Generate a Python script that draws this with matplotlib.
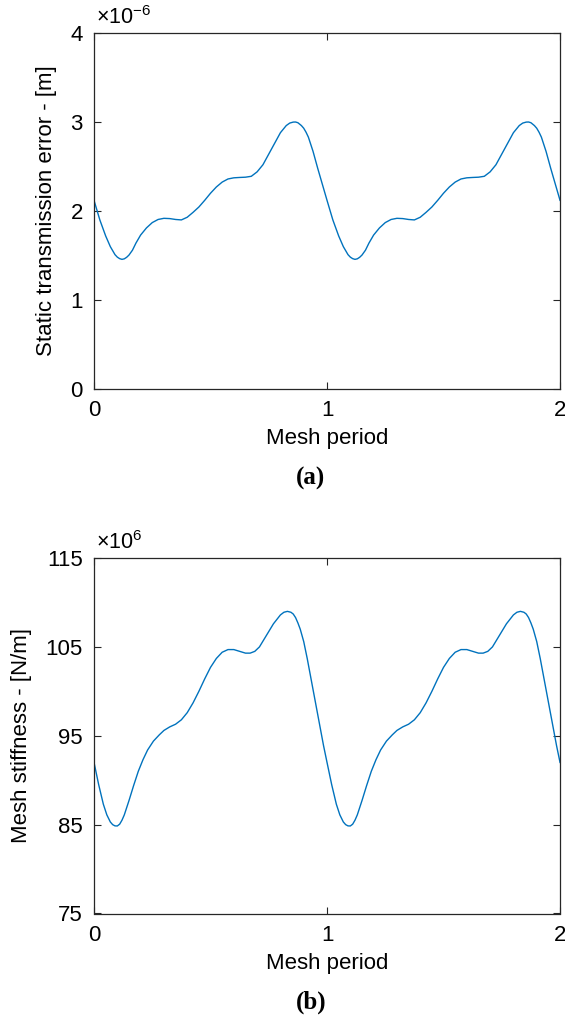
import numpy as np
import matplotlib
matplotlib.use('Agg')
import matplotlib.pyplot as plt

# one mesh period, repeated for the two periods shown
phase_ste = [0.000, 0.025, 0.050, 0.070, 0.090, 0.100, 0.110, 0.120, 0.130, 0.140,
             0.150, 0.165, 0.180, 0.200, 0.225, 0.250, 0.275, 0.300, 0.325, 0.350,
             0.375, 0.400, 0.425, 0.450, 0.475, 0.500, 0.525, 0.550, 0.575, 0.600,
             0.625, 0.650, 0.675, 0.700, 0.725, 0.750, 0.775, 0.800, 0.825, 0.840,
             0.855, 0.865, 0.875, 0.890, 0.900, 0.910, 0.920, 0.940, 0.960, 0.980]
ste_period = [2.12, 1.90, 1.72, 1.60, 1.51, 1.482, 1.465, 1.457, 1.463, 1.48,
              1.505, 1.56, 1.64, 1.73, 1.81, 1.87, 1.905, 1.918, 1.915, 1.905,
              1.900, 1.930, 1.985, 2.045, 2.12, 2.20, 2.27, 2.325, 2.36, 2.373,
              2.377, 2.38, 2.39, 2.44, 2.52, 2.64, 2.76, 2.88, 2.96, 2.988,
              2.999, 3.00, 2.992, 2.96, 2.93, 2.885, 2.83, 2.67, 2.48, 2.30]   # x1e-6 m

phase_k = [0.000, 0.020, 0.040, 0.055, 0.070, 0.080, 0.090, 0.100, 0.110, 0.120,
           0.130, 0.150, 0.170, 0.190, 0.210, 0.230, 0.255, 0.280, 0.300, 0.325,
           0.350, 0.375, 0.400, 0.425, 0.450, 0.475, 0.500, 0.525, 0.550, 0.575,
           0.600, 0.625, 0.650, 0.670, 0.690, 0.710, 0.740, 0.770, 0.800, 0.815,
           0.830, 0.845, 0.855, 0.865, 0.875, 0.885, 0.900, 0.915, 0.930, 0.945,
           0.960, 0.975, 0.985]
k_period = [92.0, 89.5, 87.3, 86.1, 85.3, 85.0, 84.86, 84.85, 85.05, 85.5,
            86.1, 87.7, 89.4, 91.0, 92.3, 93.4, 94.4, 95.1, 95.6, 96.0,
            96.3, 96.8, 97.6, 98.7, 100.0, 101.4, 102.7, 103.7, 104.4, 104.7,
            104.7, 104.5, 104.3, 104.3, 104.5, 105.0, 106.3, 107.6, 108.6, 108.9,
            109.0, 108.9, 108.7, 108.3, 107.7, 107.0, 105.6, 103.7, 101.6, 99.5,
            97.4, 95.3, 93.9]   # x1e6 N/m

x_ticks = [0, 1, 2]
ste_ticks = [0, 1, 2, 3, 4]
k_ticks = [75, 85, 95, 105, 115]

plt.rcParams['font.family'] = ['Liberation Sans', 'DejaVu Sans']
plt.rcParams['mathtext.default'] = 'regular'

line_color = '#0072BD'
axis_color = '#262626'


def two_periods(phase, vals):
    t = np.concatenate([phase, np.array(phase) + 1, [2.0]])
    y = np.concatenate([vals, vals, [vals[0]]])
    return t, y


def style_axes(ax, yticks, ylabel, exponent, tag):
    ax.set_xlim(0, 2)
    ax.set_ylim(yticks[0], yticks[-1])
    ax.set_xticks(x_ticks)
    ax.set_yticks(yticks)
    ax.tick_params(direction='in', length=5, width=0.8, colors=axis_color,
                   labelcolor='black', labelsize=16, top=True, right=True, pad=8)
    for s in ax.spines.values():
        s.set_color(axis_color)
        s.set_linewidth(0.9)
    ax.set_xlabel('Mesh period', fontsize=16, labelpad=5)
    ax.set_ylabel(ylabel, fontsize=16, labelpad=10)
    ax.text(0.005, 1.01, r'$\times$10$^{%s}$' % exponent, transform=ax.transAxes,
            fontsize=15.5, ha='left', va='bottom')
    ax.text(0.465, -0.25, tag, transform=ax.transAxes, fontsize=18,
            fontweight='bold', family='Liberation Serif', ha='center', va='center')


fig = plt.figure(figsize=(5.65, 10.15), dpi=100)
ax1 = fig.add_axes([0.1664, 0.6167, 0.8248, 0.3508])
ax2 = fig.add_axes([0.1664, 0.1000, 0.8248, 0.3502])

t1, y1 = two_periods(phase_ste, ste_period)
ax1.plot(t1, y1, color=line_color, lw=1.0)
style_axes(ax1, ste_ticks, 'Static transmission error - [m]', '-6', '(a)')

t2, y2 = two_periods(phase_k, k_period)
ax2.plot(t2, y2, color=line_color, lw=1.0)
style_axes(ax2, k_ticks, 'Mesh stiffness - [N/m]', '6', '(b)')

fig.savefig('out.png', dpi=100)
